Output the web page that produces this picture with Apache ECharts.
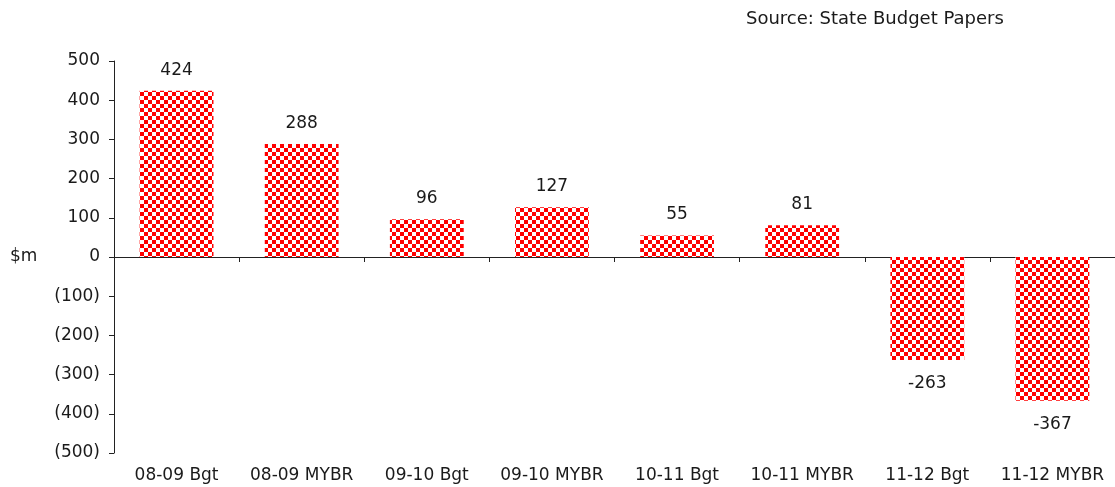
<!DOCTYPE html>
<html><head><meta charset="utf-8">
<script src="https://cdn.jsdelivr.net/npm/echarts@6/dist/echarts.min.js"></script>
<style>html,body{margin:0;padding:0;background:#fff}#c{width:1115px;height:487px}</style>
</head><body><div id="c"></div>
<script>
const categories = ['08-09 Bgt','08-09 MYBR','09-10 Bgt','09-10 MYBR','10-11 Bgt','10-11 MYBR','11-12 Bgt','11-12 MYBR'];
const values = [424, 288, 96, 127, 55, 81, -263, -367];
const yTicks = [-500, -400, -300, -200, -100, 0, 100, 200, 300, 400, 500];

// checker pattern
const pc = document.createElement('canvas');
pc.width = 8; pc.height = 8;
const g = pc.getContext('2d');
g.fillStyle = '#ffffff'; g.fillRect(0,0,8,8);
g.fillStyle = '#ff0000'; g.fillRect(0,0,4,4); g.fillRect(4,4,4,4);

const font = '"DejaVu Sans", Verdana, sans-serif';
const txt = '#1a1a1a';
const chart = echarts.init(document.getElementById('c'));
chart.setOption({
  animation: false,
  textStyle: {fontFamily: font},
  grid: {left: 114, right: 0, top: 61, bottom: 34},
  graphic: [
    {type: 'text', left: 746, top: 10, style: {text: 'Source: State Budget Papers', font: '18px ' + font, fill: txt}},
    {type: 'text', left: 10, top: 248, style: {text: '$m', font: '17px ' + font, fill: txt}}
  ],
  xAxis: [
    {type: 'category', data: categories, position: 'bottom',
     axisLine: {onZero: true, lineStyle: {color: '#222', width: 1}},
     axisTick: {show: true, length: 5, inside: false, lineStyle: {color: '#222'}},
     axisLabel: {show: false}},
    {type: 'category', data: categories, position: 'bottom',
     axisLine: {show: false, onZero: false}, axisTick: {show: false},
     axisLabel: {color: txt, fontSize: 17, fontFamily: font, margin: 14, interval: 0}}
  ],
  yAxis: {
    type: 'value', min: yTicks[0], max: yTicks[yTicks.length-1], interval: 100,
    axisLine: {show: true, lineStyle: {color: '#222'}},
    axisTick: {show: true, length: 5, lineStyle: {color: '#222'}},
    splitLine: {show: false},
    axisLabel: {color: txt, fontSize: 17, fontFamily: font, margin: 14,
      formatter: v => v < 0 ? '(' + Math.abs(v) + ')' : String(v)}
  },
  series: [{
    type: 'bar', xAxisIndex: 0,
    barCategoryGap: '41%',
    itemStyle: {color: {image: pc, repeat: 'repeat'}},
    data: values.map(v => ({value: v, label: v < 0 ? {position: 'bottom', distance: 15} : {position: 'top', distance: 12}})),
    label: {show: true, color: txt, fontSize: 17, fontFamily: font}
  }]
});
</script></body></html>
